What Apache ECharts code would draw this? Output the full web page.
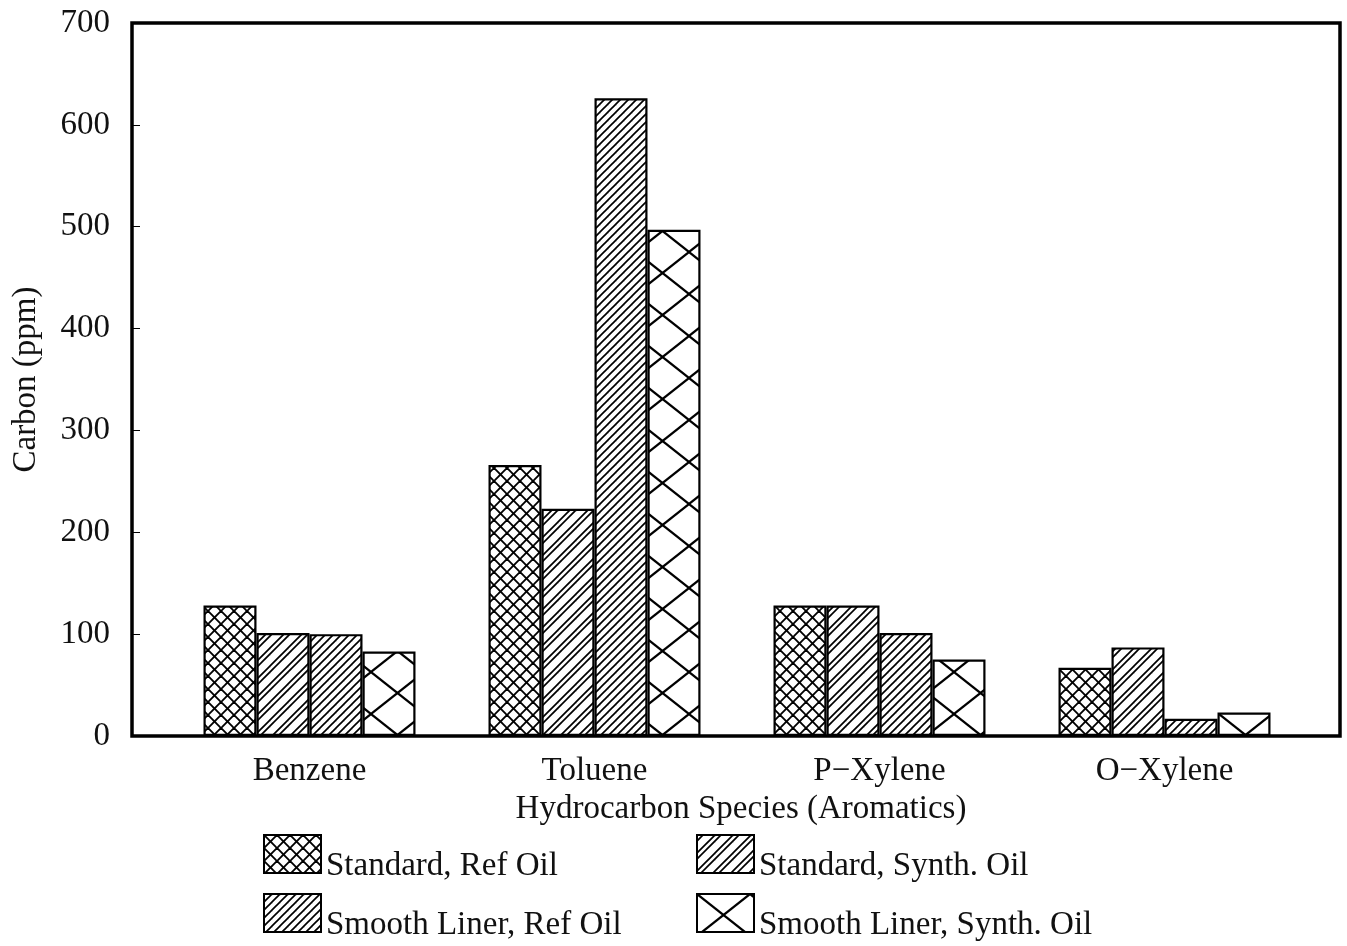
<!DOCTYPE html>
<html>
<head>
<meta charset="utf-8">
<script src="https://cdn.jsdelivr.net/npm/echarts@6/dist/echarts.min.js"></script>
<style>
html,body{margin:0;padding:0;background:#fff;}
#chart{width:1347px;height:946px;}
</style>
</head>
<body>
<div id="chart"></div>
<script>
// ---- data ----
var categories = ['Benzene', 'Toluene', 'P\u2212Xylene', 'O\u2212Xylene'];
var seriesNames = ['Standard, Ref Oil', 'Standard, Synth. Oil', 'Smooth Liner, Ref Oil', 'Smooth Liner, Synth. Oil'];
var standardRefOil = [128, 266, 128, 67];
var standardSynthOil = [101, 223, 128, 87];
var smoothRefOil = [100, 626, 101, 17];
var smoothSynthOil = [83, 497, 75, 23];
var yTicks = [0, 100, 200, 300, 400, 500, 600, 700];

// ---- hatch patterns ----
function makeTile(w, h, draw) {
  var c = document.createElement('canvas');
  c.width = w; c.height = h;
  var ctx = c.getContext('2d');
  ctx.fillStyle = '#fff';
  ctx.fillRect(0, 0, w, h);
  ctx.strokeStyle = '#000';
  draw(ctx, w, h);
  return { image: c, repeat: 'repeat' };
}
function slashLines(ctx, p, offsets, lw) {
  ctx.lineWidth = lw;
  offsets.forEach(function (off) {
    for (var k = -1; k <= 2; k++) {
      var c = off + k * p;
      ctx.beginPath();
      ctx.moveTo(c - p * 2, p * 2);
      ctx.lineTo(c + p * 2, -p * 2);
      ctx.stroke();
    }
  });
}
function backLines(ctx, p, offsets, lw) {
  ctx.lineWidth = lw;
  offsets.forEach(function (off) {
    for (var k = -1; k <= 2; k++) {
      var c = off + k * p;
      ctx.beginPath();
      ctx.moveTo(c - p * 2, -p * 2);
      ctx.lineTo(c + p * 2, p * 2);
      ctx.stroke();
    }
  });
}
var patCross = makeTile(13, 13, function (ctx, w) {
  slashLines(ctx, w, [0], 1.9);
  backLines(ctx, w, [0], 1.9);
});
var patPairs = makeTile(18, 18, function (ctx, w) {
  slashLines(ctx, w, [0, 6], 1.7);
});
var patDense = makeTile(8, 8, function (ctx, w) {
  slashLines(ctx, w, [0], 1.7);
});
var patBigX = makeTile(53, 42, function (ctx, w, h) {
  ctx.lineWidth = 2.2;
  ctx.beginPath(); ctx.moveTo(0, 0); ctx.lineTo(w, h); ctx.stroke();
  ctx.beginPath(); ctx.moveTo(0, h); ctx.lineTo(w, 0); ctx.stroke();
});
var patterns = [patCross, patPairs, patDense, patBigX];
var values = [standardRefOil, standardSynthOil, smoothRefOil, smoothSynthOil];

var FONT = '"Liberation Serif", "Times New Roman", serif';
var FS = 33;
var chart = echarts.init(document.getElementById('chart'), null, { renderer: 'canvas' });

var legendText = {
  fontFamily: FONT, fontSize: FS, color: '#111',
  rich: { t: { fontFamily: FONT, fontSize: FS, color: '#111', padding: [24, 0, 0, 0] } }
};
function legendFmt(name) { return '{t|' + name + '}'; }
// legend slot placement (layout only): [left, top] for each series in seriesNames order
var legendSlots = [[263, 834], [696, 834], [263, 893], [696, 893]];
var option = {
  animation: false,
  backgroundColor: '#fff',
  grid: [
    { left: 132, right: 7, top: 23, bottom: 210, show: true, borderColor: '#000', borderWidth: 3.5, backgroundColor: 'transparent', z: 10 },
    { left: 167, right: 40, top: 23, bottom: 210 }
  ],
  xAxis: [
    { gridIndex: 0, type: 'category', data: categories, show: false },
    {
      gridIndex: 1, type: 'category', data: categories,
      axisLine: { show: false }, axisTick: { show: false },
      axisLabel: { fontFamily: FONT, fontSize: FS, color: '#111', margin: 19 },
      name: 'Hydrocarbon Species (Aromatics)', nameLocation: 'middle', nameGap: 54,
      nameTextStyle: { fontFamily: FONT, fontSize: FS, color: '#111', padding: [0, 0, 0, 8] }
    }
  ],
  yAxis: [
    {
      gridIndex: 0, type: 'value', min: yTicks[0], max: yTicks[yTicks.length - 1], interval: 100,
      axisLine: { show: false },
      axisTick: { show: true, inside: true, length: 8, lineStyle: { color: '#000', width: 1 } },
      splitLine: { show: false },
      axisLabel: { fontFamily: FONT, fontSize: FS, color: '#111', margin: 22 },
      name: 'Carbon (ppm)', nameLocation: 'middle', nameGap: 89,
      nameTextStyle: { fontFamily: FONT, fontSize: FS, color: '#111' }
    },
    { gridIndex: 1, type: 'value', min: 0, max: 700, interval: 100, show: false, splitLine: { show: false } }
  ],
  legend: seriesNames.map(function (n, i) {
    return {
      orient: 'horizontal', left: legendSlots[i][0], top: legendSlots[i][1], padding: 0,
      itemWidth: 57, itemHeight: 38, icon: 'rect', data: [n],
      formatter: legendFmt, textStyle: legendText
    };
  }),
  series: seriesNames.map(function (n, i) {
    return {
      name: n, type: 'bar', xAxisIndex: 1, yAxisIndex: 1,
      data: values[i], barWidth: 53, barGap: '0%',
      itemStyle: { color: patterns[i], borderColor: '#000', borderWidth: 2.2 }
    };
  })
};
chart.setOption(option);
</script>
</body>
</html>
